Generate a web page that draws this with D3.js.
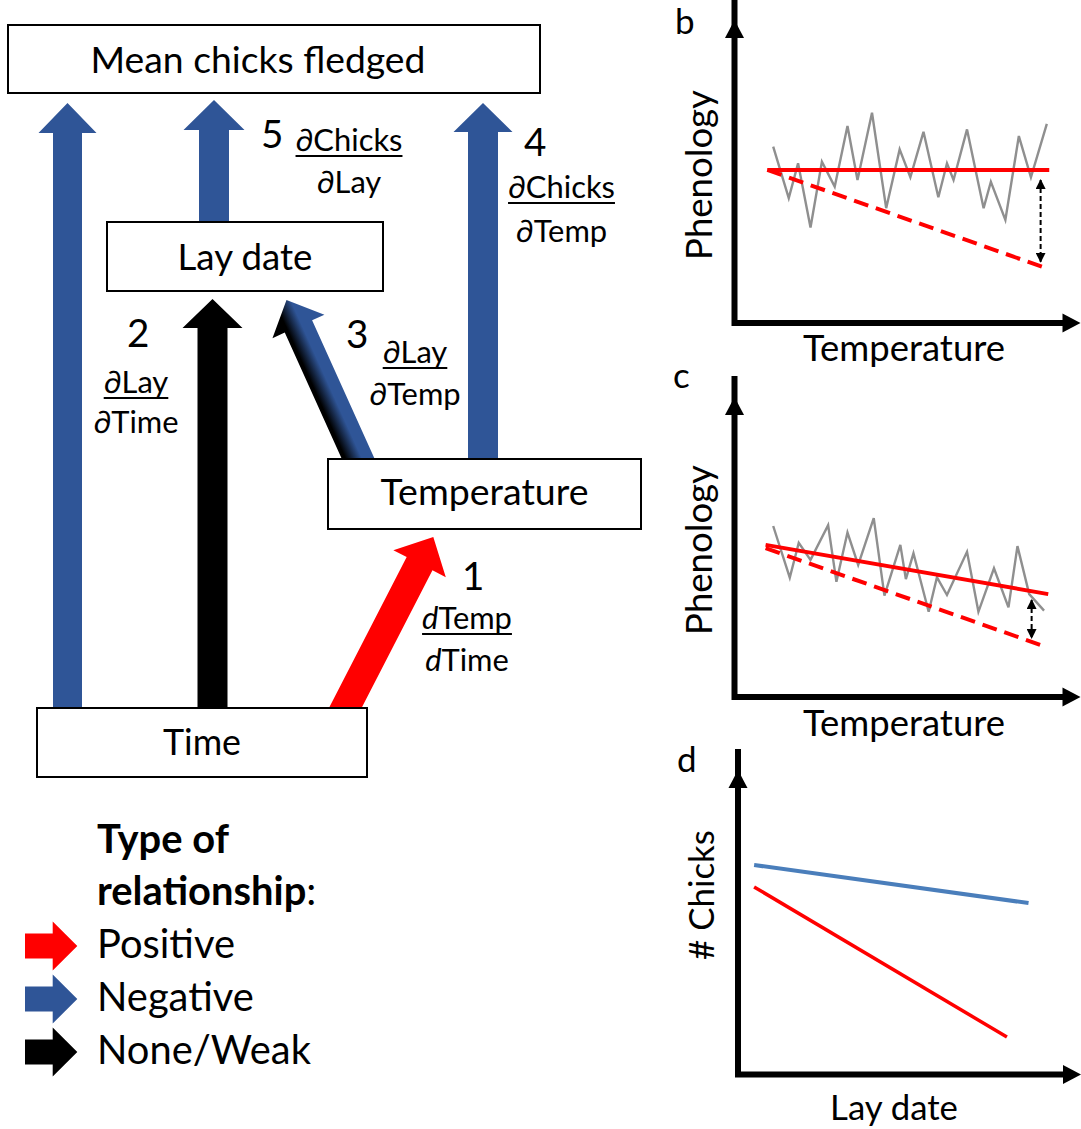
<!DOCTYPE html>
<html><head><meta charset="utf-8">
<script src="https://cdn.jsdelivr.net/npm/d3@7"></script>
<style>
body{margin:0;background:#fff}
svg{display:block}
text{font-family:Lato,"Open Sans",sans-serif;fill:#000}
</style>
</head><body>
<svg id="c" width="1081" height="1129"></svg>
<script>
// ---------------- DATA ----------------
// Panel b : phenology vs temperature (domain units 0-100)
const bGrayX = [11.2,15.7,18.4,22.0,25.3,29.0,32.7,35.6,39.8,43.9,47.8,50.9,54.7,59.0,61.5,63.4,67.3,72.1,74.2,78.4,82.3,85.8,90.4];
const bGrayY = [58.2,41.2,52.7,31.5,53.2,45.0,65.0,47.2,69.4,37.9,57.3,48.1,63.1,41.5,52.7,47.2,63.9,37.9,46.6,34.0,61.7,48.1,65.7];
const bFitX = [9.5,91.1], bFitY = [50.5,50.5];
const bExpX = [9.5,90.2], bExpY = [50.5,18.1];
const bGapX = [88.6,88.6], bGapY = [47.2,20.2];
// Panel c
const cGrayX = [11.2,16.0,18.6,22.0,27.1,29.5,32.7,35.8,40.3,43.4,48.0,49.6,51.8,56.2,58.6,61.5,67.3,70.6,75.1,79.3,81.9,85.3,89.6];
const cGrayY = [57.0,39.8,51.4,45.7,57.3,38.4,54.8,44.0,59.6,33.8,50.7,39.3,47.9,28.4,39.9,34.0,48.4,28.4,42.9,29.9,50.3,34.3,28.8];
const cFitX = [9.0,90.8], cFitY = [50.7,34.3];
const cExpX = [9.0,89.9], cExpY = [49.6,16.8];
const cGapX = [86.0,86.0], cGapY = [32.3,19.7];
// Panel d : chicks vs lay date
const dBlueX = [4.7,84.7], dBlueY = [68.8,56.3];
const dRedX = [4.7,78.4], dRedY = [61.6,12.3];
// Path diagram
const nodeNames = ["Mean chicks fledged","Lay date","Temperature","Time"];
const pathNums = ["1","2","3","4","5"];
const pathNumer = [[["d",true],["Temp",false]],[["∂Lay",false]],[["∂Lay",false]],[["∂Chicks",false]],[["∂Chicks",false]]];
const pathDenom = [[["d",true],["Time",false]],[["∂Time",false]],[["∂Temp",false]],[["∂Temp",false]],[["∂Lay",false]]];
const pathTypes = ["Positive","None/Weak","Negative","Negative","Negative"];
const legendTitle = ["Type of","relationship"];
const legendCats = ["Positive","Negative","None/Weak"];
const legendColors = ["#FF0000","#2F5597","#000000"];
const panelLetters = ["b","c","d"];

// ---------------- DRAW ----------------
const svg = d3.select("#c");
const BLUE = "#2F5597";
const colorOf = d3.scaleOrdinal().domain(legendCats).range(legendColors);

function txt(g, x, y, s, o = {}) {
  const size = o.size || 36;
  const t = g.append("text").attr("x", x).attr("y", y).attr("font-size", size)
    .attr("text-anchor", o.anchor || "start").attr("font-weight", o.weight || "normal");
  if (o.rotate) t.attr("transform", `rotate(${o.rotate},${x},${y})`);
  if (Array.isArray(s)) {
    s.forEach(([str, it]) => t.append("tspan").attr("font-style", it ? "italic" : "normal").text(str));
  } else t.text(s);
  if (o.fit) {
    const L = t.node().getComputedTextLength();
    t.attr("font-size", size * o.fit / L);
  }
  return t;
}
function measureSize(s, w, weight) {
  const t = txt(svg, -500, -500, s, {size: 36, weight});
  const L = t.node().getComputedTextLength();
  t.remove();
  return 36 * w / L;
}

function arrowPts(bx, by, tx, ty, sw, hw, hl, ext) {
  const dx = tx - bx, dy = ty - by, L = Math.hypot(dx, dy), ux = dx / L, uy = dy / L, nx = -uy, ny = ux;
  bx -= ux * ext; by -= uy * ext;
  const hx = tx - ux * hl, hy = ty - uy * hl;
  return [[bx + nx * sw / 2, by + ny * sw / 2], [hx + nx * sw / 2, hy + ny * sw / 2], [hx + nx * hw / 2, hy + ny * hw / 2],
          [tx, ty], [hx - nx * hw / 2, hy - ny * hw / 2], [hx - nx * sw / 2, hy - ny * sw / 2], [bx - nx * sw / 2, by - ny * sw / 2]];
}
const poly = d3.line();

const defs = svg.append("defs");
// gradient for path 3 (shaded arrow)
(function () {
  const bx = 358.3, by = 459, tx = 286.5, ty = 300;
  const L = Math.hypot(tx - bx, ty - by), ux = (tx - bx) / L, uy = (ty - by) / L, nx = -uy, ny = ux;
  const g = defs.append("linearGradient").attr("id", "g3").attr("gradientUnits", "userSpaceOnUse")
    .attr("x1", bx - nx * 15).attr("y1", by - ny * 15).attr("x2", bx + nx * 15).attr("y2", by + ny * 15);
  g.append("stop").attr("offset", 0).attr("stop-color", "#000");
  g.append("stop").attr("offset", 0.12).attr("stop-color", "#000");
  g.append("stop").attr("offset", 0.62).attr("stop-color", BLUE);
  g.append("stop").attr("offset", 1).attr("stop-color", BLUE);
})();

const diag = svg.append("g");
// arrows: [exitX, exitY, tipX, tipY, shaftW, headW, headL, ext, fill]
const arrows = [
  [67.5, 708, 67.5, 103, 29, 58, 30, 4, BLUE],                 // Time -> chicks
  [214, 222, 214, 100, 30, 61, 30, 4, colorOf(pathTypes[4])],  // Lay -> chicks (5)
  [483, 459, 483, 103, 30, 59, 29, 4, colorOf(pathTypes[3])],  // Temp -> chicks (4)
  [212.5, 708, 212.5, 299, 30, 60, 29, 4, colorOf(pathTypes[1])], // Time -> lay (2)
  [358.3, 459, 286.5, 300, 30, 57, 29, 16, "url(#g3)"],        // Temp -> lay (3)
  [345.3, 708, 433.3, 537, 29, 59, 30, 16, colorOf(pathTypes[0])] // Time -> Temp (1)
];
arrows.forEach(a => {
  diag.append("path").attr("d", poly(arrowPts(a[0], a[1], a[2], a[3], a[4], a[5], a[6], a[7])) + "Z").attr("fill", a[8]);
});

// boxes
const boxes = [[8, 25, 532, 68, 258, 73, 335], [107, 222, 276, 69, 245, 270, 135], [328, 459, 313, 70, 484.5, 505, 208], [37, 708, 330, 69, 202, 755, 78]];
boxes.forEach((b, i) => {
  diag.append("rect").attr("x", b[0]).attr("y", b[1]).attr("width", b[2]).attr("height", b[3])
    .attr("fill", "#fff").attr("stroke", "#000").attr("stroke-width", 2);
  txt(diag, b[4], b[5], nodeNames[i], {anchor: "middle", fit: b[6]});
});

// path labels
const FS = measureSize("∂Chicks", 107);
// [numX, numY, cx, numBaseline, denBaseline]
const lab = [[462, 590, 467, 629, 671], [127, 347, 136, 393, 433], [346, 348, 415, 363, 405], [524, 156, 561.5, 198, 242], [261, 148, 349, 151, 193]];
lab.forEach((l, i) => {
  txt(diag, l[0], l[1], pathNums[i], {size: FS * 1.25});
  const n = txt(diag, l[2], l[3], pathNumer[i], {anchor: "middle", size: FS});
  txt(diag, l[2], l[4], pathDenom[i], {anchor: "middle", size: FS});
  const w = n.node().getComputedTextLength();
  diag.append("line").attr("x1", l[2] - w / 2).attr("x2", l[2] + w / 2)
    .attr("y1", l[3] + 5).attr("y2", l[3] + 5).attr("stroke", "#000").attr("stroke-width", 2);
});

// legend
const leg = svg.append("g");
const TS = measureSize(legendTitle[0], 132, "bold");
txt(leg, 97, 853, legendTitle[0], {size: TS, weight: "bold"});
const t2 = leg.append("text").attr("x", 97).attr("y", 905).attr("font-size", TS);
t2.append("tspan").attr("font-weight", "bold").text(legendTitle[1]);
t2.append("tspan").text(":");
const LS = measureSize(legendCats[0], 138);
const legY = d3.scalePoint().domain(legendCats).range([946, 1052]);
legendCats.forEach(c => {
  const y = legY(c);
  leg.append("path").attr("d", poly([[25, y - 12.5], [52.7, y - 12.5], [52.7, y - 24.5], [77.3, y], [52.7, y + 24.5], [52.7, y + 12.5], [25, y + 12.5]]) + "Z")
    .attr("fill", colorOf(c));
  txt(leg, 97, y + 12, c, {size: LS});
});

// ---------------- panels ----------------
defs.append("marker").attr("id", "ah").attr("viewBox", "0 0 10 10").attr("refX", 9).attr("refY", 5)
  .attr("markerWidth", 10).attr("markerHeight", 10).attr("markerUnits", "userSpaceOnUse").attr("orient", "auto-start-reverse")
  .append("path").attr("d", "M0,0L10,5L0,10Z").attr("fill", "#000");

function axes(g, x0, x1, y0, y1) {
  g.append("path").attr("d", `M${x0},${y1 - 18}L${x0},${y0}L${x1 - 17},${y0}`).attr("fill", "none")
    .attr("stroke", "#000").attr("stroke-width", 6).attr("stroke-linejoin", "miter").attr("stroke-linecap", "square");
  g.append("path").attr("d", poly([[x0 - 9.5, y1 + 18], [x0, y1], [x0 + 9.5, y1 + 18]]) + "Z").attr("fill", "#000");
  g.append("path").attr("d", poly([[x1 - 18, y0 - 9.5], [x1, y0], [x1 - 18, y0 + 9.5]]) + "Z").attr("fill", "#000");
}

function phenPanel(letter, yTop, yBot, gx, gy, fx, fy, ex, ey, ax, ay, lblY, phenY, letY) {
  const g = svg.append("g");
  const x = d3.scaleLinear().domain([0, 100]).range([734.5, 1080]);
  const y = d3.scaleLinear().domain([0, 100]).range([yBot, yTop]);
  axes(g, 734.5, 1080.5, yBot, yTop);
  const ln = d3.line().x(d => x(d[0])).y(d => y(d[1]));
  g.append("path").attr("d", ln(d3.zip(gx, gy))).attr("fill", "none").attr("stroke", "#8f8f8f").attr("stroke-width", 2.4).attr("stroke-linejoin", "miter");
  g.append("path").attr("d", ln(d3.zip(fx, fy))).attr("fill", "none").attr("stroke", "#FF0000").attr("stroke-width", 4);
  g.append("path").attr("d", ln(d3.zip(ex, ey))).attr("fill", "none").attr("stroke", "#FF0000").attr("stroke-width", 4).attr("stroke-dasharray", "15,8");
  g.append("path").attr("d", ln(d3.zip(ax, ay))).attr("fill", "none").attr("stroke", "#000").attr("stroke-width", 2)
    .attr("stroke-dasharray", "5,3").attr("marker-start", "url(#ah)").attr("marker-end", "url(#ah)");
  txt(g, 904, lblY, "Temperature", {anchor: "middle", fit: 202});
  txt(g, 712, phenY, "Phenology", {anchor: "middle", rotate: -90, fit: 170});
  txt(g, letY[0], letY[1], letter, {size: 35});
}
phenPanel(panelLetters[0], 20, 323, bGrayX, bGrayY, bFitX, bFitY, bExpX, bExpY, bGapX, bGapY, 361, 175, [675, 34]);
phenPanel(panelLetters[1], 397, 697, cGrayX, cGrayY, cFitX, cFitY, cExpX, cExpY, cGapX, cGapY, 736, 550, [673, 388]);

(function () {
  const g = svg.append("g");
  const x = d3.scaleLinear().domain([0, 100]).range([738, 1081]);
  const y = d3.scaleLinear().domain([0, 100]).range([1074.5, 770]);
  axes(g, 738, 1081, 1074.5, 770);
  const ln = d3.line().x(d => x(d[0])).y(d => y(d[1]));
  g.append("path").attr("d", ln(d3.zip(dBlueX, dBlueY))).attr("fill", "none").attr("stroke", "#4A7EBB").attr("stroke-width", 4);
  g.append("path").attr("d", ln(d3.zip(dRedX, dRedY))).attr("fill", "none").attr("stroke", "#FF0000").attr("stroke-width", 3.5);
  txt(g, 894, 1120, "Lay date", {anchor: "middle", fit: 128});
  txt(g, 714, 895, "# Chicks", {anchor: "middle", rotate: -90, fit: 130});
  txt(g, 677, 772, panelLetters[2], {size: 35});
})();
</script>
</body></html>
